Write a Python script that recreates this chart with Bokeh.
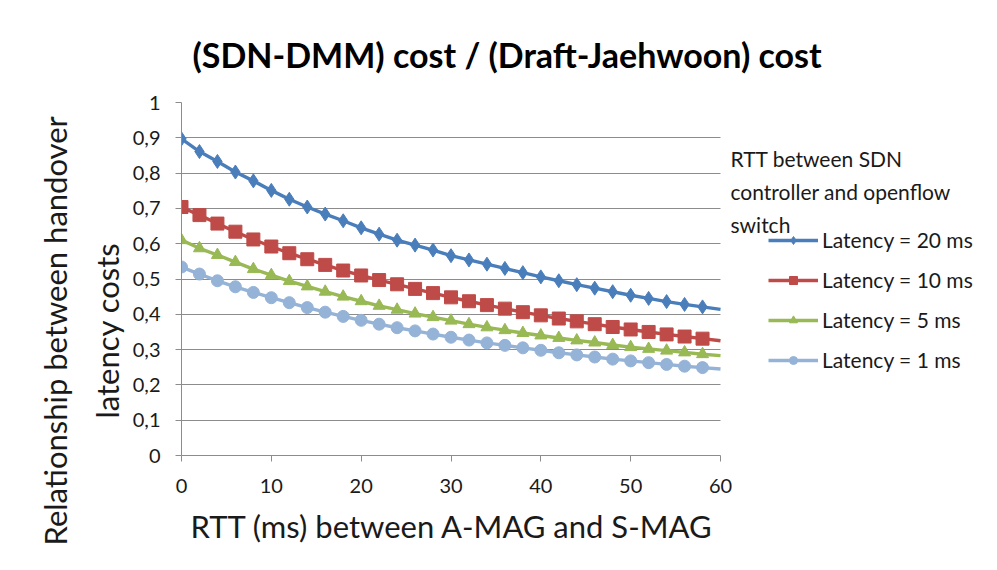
from bokeh.plotting import figure
from bokeh.models import (Legend, LegendItem, Label, FixedTicker, CustomJSTickFormatter,
                          Range1d, ColumnDataSource, Title)
from bokeh.embed import file_html
from bokeh.resources import INLINE

# ---- data ----
rtt_ms = [0, 2, 4, 6, 8, 10, 12, 14, 16, 18, 20, 22, 24, 26, 28, 30,
          32, 34, 36, 38, 40, 42, 44, 46, 48, 50, 52, 54, 56, 58, 60]
latency_20 = [0.897, 0.861, 0.833, 0.803, 0.778, 0.751, 0.726, 0.704, 0.684, 0.665, 0.645,
              0.627, 0.610, 0.596, 0.582, 0.566, 0.554, 0.542, 0.530, 0.518, 0.506,
              0.495, 0.484, 0.474, 0.464, 0.454, 0.445, 0.436, 0.428, 0.421, 0.414]
latency_10 = [0.704, 0.681, 0.657, 0.634, 0.612, 0.592, 0.573, 0.556, 0.540, 0.524, 0.510,
              0.497, 0.485, 0.472, 0.460, 0.448, 0.437, 0.426, 0.416, 0.406, 0.397,
              0.388, 0.380, 0.372, 0.364, 0.357, 0.350, 0.343, 0.337, 0.331, 0.325]
latency_5 = [0.610, 0.587, 0.568, 0.548, 0.528, 0.511, 0.494, 0.479, 0.464, 0.450, 0.437,
             0.424, 0.413, 0.402, 0.392, 0.382, 0.372, 0.363, 0.355, 0.347, 0.340,
             0.333, 0.326, 0.320, 0.313, 0.307, 0.302, 0.297, 0.292, 0.287, 0.283]
latency_1 = [0.534, 0.514, 0.495, 0.478, 0.462, 0.447, 0.433, 0.419, 0.406, 0.394, 0.383,
             0.372, 0.362, 0.353, 0.344, 0.335, 0.327, 0.319, 0.312, 0.305, 0.298,
             0.291, 0.285, 0.279, 0.273, 0.268, 0.263, 0.258, 0.253, 0.249, 0.245]
series_names = ["Latency = 20 ms", "Latency = 10 ms", "Latency = 5 ms", "Latency = 1 ms"]
x_ticks = [0, 10, 20, 30, 40, 50, 60]
y_ticks = [0, 0.1, 0.2, 0.3, 0.4, 0.5, 0.6, 0.7, 0.8, 0.9, 1.0]

FONT = "Lato"
TXT = "#1a1a1a"
GRID = "#8c8c8c"

W, H = 981, 554
FRAME_L, FRAME_R, FRAME_T, FRAME_B = 181, 981, 102, 456   # canvas px
AXIS_R = 720                                             # where x = 60 sits
x_end = x_ticks[-1] * (FRAME_R - FRAME_L) / (AXIS_R - FRAME_L)

p = figure(width=W, height=H, output_backend="svg", toolbar_location=None,
           x_range=Range1d(x_ticks[0], x_end), y_range=Range1d(y_ticks[0], y_ticks[-1]),
           min_border_left=FRAME_L, min_border_right=W - FRAME_R,
           min_border_top=FRAME_T, min_border_bottom=H - FRAME_B)
p.outline_line_color = None
p.background_fill_color = "white"

# title
p.title.text = "(SDN-DMM) cost / (Draft-Jaehwoon) cost"
p.title.text_font = FONT
p.title.text_font_size = "34px"
p.title.text_font_style = "bold"
p.title.text_color = "#000000"
p.title.align = "left"
p.title.offset = 11
p.title.standoff = 56

# axes
p.xaxis.ticker = FixedTicker(ticks=x_ticks)
p.yaxis.ticker = FixedTicker(ticks=y_ticks)
p.xaxis.bounds = (x_ticks[0], x_ticks[-1])
p.yaxis.formatter = CustomJSTickFormatter(code="""
    if (Math.abs(tick) < 1e-9) return "0";
    if (Math.abs(tick - 1) < 1e-9) return "1";
    return tick.toFixed(1).replace(".", ",");
""")
for ax in (p.xaxis, p.yaxis):
    ax.axis_line_color = GRID
    ax.major_tick_line_color = GRID
    ax.major_tick_out = 6
    ax.major_tick_in = 0
    ax.minor_tick_line_color = None
    ax.major_label_text_font = FONT
    ax.major_label_text_font_size = "20px"
    ax.major_label_text_color = TXT
p.xaxis.major_label_standoff = 17
p.yaxis.major_label_standoff = 15

# axis titles as panel titles (precise placement)
xlab = Title(text="RTT (ms) between A-MAG and S-MAG", align="left", offset=9, standoff=19,
             text_font=FONT, text_font_size="31px", text_font_style="normal", text_color=TXT)
p.add_layout(xlab, "below")
ylab2 = Title(text="latency costs", align="left", offset=37, standoff=8,
              text_font=FONT, text_font_size="31px", text_font_style="normal", text_color=TXT)
p.add_layout(ylab2, "left")
ylab1 = Title(text="Relationship between handover", align="left", offset=-90, standoff=16,
              text_font=FONT, text_font_size="31px", text_font_style="normal", text_color=TXT)
p.add_layout(ylab1, "left")

# grid, only across the 0..60 span
p.xgrid.grid_line_color = None
p.ygrid.grid_line_color = GRID
p.ygrid.grid_line_width = 1.2
g = p.ygrid[0]
if "cross_bounds" in g.properties():
    g.cross_bounds = (x_ticks[0], x_ticks[-1])
else:
    p.ygrid.grid_line_color = None
    gsrc = ColumnDataSource(dict(y=y_ticks[1:], x0=[x_ticks[0]] * (len(y_ticks) - 1),
                                 x1=[x_ticks[-1]] * (len(y_ticks) - 1)))
    p.segment(x0="x0", y0="y", x1="x1", y1="y", source=gsrc, line_color=GRID, line_width=1.2)

# series
colors = ["#4A7EBB", "#BE4B48", "#98B954", "#95B3D7"]
markers = ["diamond", "square", "triangle", "circle"]
sizes = [14, 13, 12, 12]
values_list = [latency_20, latency_10, latency_5, latency_1]
items = []
for name, vals, c, m, s in zip(series_names, values_list, colors, markers, sizes):
    src_line = ColumnDataSource(dict(x=rtt_ms, y=vals))
    src_pts = ColumnDataSource(dict(x=rtt_ms[:-1], y=vals[:-1]))
    ln = p.line("x", "y", source=src_line, line_color=c, line_width=3.4)
    sc = p.scatter("x", "y", source=src_pts, marker=m, size=s, fill_color=c, line_color=c)
    items.append(LegendItem(label=name, renderers=[ln, sc]))

legend = Legend(items=items, location=(587, 83))
legend.background_fill_alpha = 0
legend.border_line_color = None
legend.padding = 0
legend.margin = 0
legend.glyph_width = 50
legend.glyph_height = 20
legend.label_height = 20
legend.spacing = 15
legend.label_standoff = 4
legend.label_text_font = FONT
legend.label_text_font_size = "21px"
legend.label_text_color = TXT
p.add_layout(legend, "center")

legend_title = Label(x=549, y=310, x_units="screen", y_units="screen",
                     text="RTT between SDN\ncontroller and openflow\nswitch",
                     text_font=FONT, text_font_size="21px", text_color=TXT,
                     text_baseline="top", text_align="left", text_line_height=1.33)
p.add_layout(legend_title)

open("out.html", "w").write(file_html(p, INLINE))
